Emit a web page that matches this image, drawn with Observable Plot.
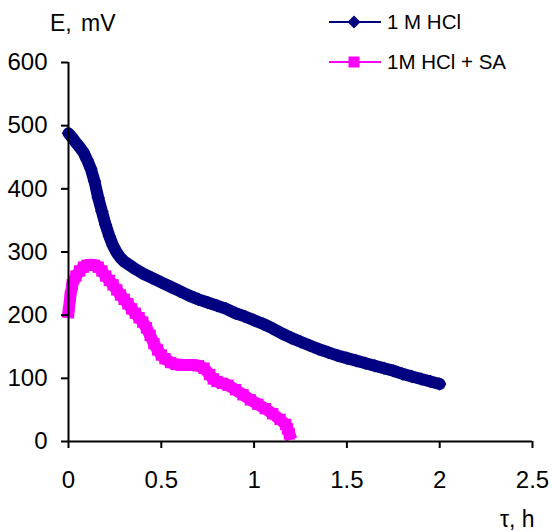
<!DOCTYPE html>
<html>
<head>
<meta charset="utf-8">
<script src="https://cdn.jsdelivr.net/npm/d3@7"></script>
<script src="https://cdn.jsdelivr.net/npm/@observablehq/plot@0.6"></script>
<style>
  html, body { margin: 0; padding: 0; background: #fff; }
  #wrap { position: relative; width: 552px; height: 532px; font-family: "Liberation Sans", Arial, sans-serif; }
  #wrap > svg.overlay { position: absolute; left: 0; top: 0; pointer-events: none; }
</style>
</head>
<body>
<div id="wrap"></div>
<script>
// ---- data ----
const seriesNames = ["1 M HCl", "1M HCl + SA"];

const tHCl = [0.00,0.02,0.04,0.06,0.08,0.10,0.12,0.14,0.16,0.18,0.20,0.22,0.24,0.26,0.28,0.30,
  0.35,0.40,0.45,0.50,0.55,0.60,0.65,0.70,0.75,0.80,0.85,0.90,0.95,1.00,1.05,1.10,1.15,1.20,
  1.25,1.30,1.35,1.40,1.45,1.50,1.55,1.60,1.65,1.70,1.75,1.80,1.85,1.90,1.95,2.00];
const eHCl = [488,481,473,466,458,446,432,412,386,364,343,325,310,299,291,285,
  275,266,259,252,245,238,231,225,220,215,210,203,198,192,186,179,171,164,
  158,152,146,141,136,132,128,124,120,116,112,107,103,99,95,91];

const tSA = [0.00,0.01,0.02,0.04,0.06,0.08,0.10,0.12,0.14,0.16,0.18,0.20,0.22,0.24,0.26,0.28,0.30,
  0.32,0.34,0.36,0.38,0.40,0.42,0.44,0.46,0.48,0.50,0.52,0.55,0.58,0.61,0.64,0.67,0.70,0.73,
  0.76,0.78,0.80,0.83,0.86,0.90,0.94,0.98,1.02,1.06,1.10,1.14,1.17,1.18,1.19];
const eSA = [205,230,248,262,270,276,279,280,279,276,270,262,255,248,240,232,225,
  218,210,203,196,189,180,168,155,145,137,131,125,122,121,121,121,120,116,
  106,99,95,92,89,82,74,66,59,52,44,35,27,20,12];

const xTicks = [0, 0.5, 1, 1.5, 2, 2.5];
const yTicks = [0, 100, 200, 300, 400, 500, 600];
const xTitle = "τ, h";
const yTitle = "E, mV";

// ---- build ----
const colHCl = "#000080", colSA = "#ff00ff";
const hcl = tHCl.map((t, i) => ({t, e: eHCl[i]}));
const sa = tSA.map((t, i) => ({t, e: eSA[i]}));

const diamond = {
  draw(ctx, size) {
    const r = Math.sqrt(size / 2);
    ctx.moveTo(0, -r); ctx.lineTo(r, 0); ctx.lineTo(0, r); ctx.lineTo(-r, 0); ctx.closePath();
  }
};

const chart = Plot.plot({
  width: 552, height: 532,
  marginLeft: 68, marginRight: 20, marginTop: 62, marginBottom: 91,
  style: {fontFamily: "'Liberation Sans', Arial, sans-serif", fontSize: "24px", background: "white", color: "black"},
  x: {domain: [0, 2.5]},
  y: {domain: [0, 600]},
  marks: [
    Plot.line(hcl, {x: "t", y: "e", stroke: colHCl, strokeWidth: 12, strokeLinejoin: "round", strokeLinecap: "round"}),
    Plot.dot(hcl, {x: "t", y: "e", symbol: diamond, r: 5.4, fill: colHCl, stroke: "none"}),
    Plot.line(sa, {x: "t", y: "e", stroke: colSA, strokeWidth: 12, strokeLinejoin: "round", strokeLinecap: "square"}),
    Plot.dot(sa, {x: "t", y: "e", symbol: "square", r: 6.4, fill: colSA, stroke: "none"}),
    Plot.ruleX([0], {stroke: "black", strokeWidth: 2}),
    Plot.ruleY([0], {stroke: "black", strokeWidth: 2}),
    Plot.axisX({ticks: xTicks, tickSize: 7, tickPadding: 22, tickFormat: d => String(d), label: null, strokeWidth: 2, fontSize: 24}),
    Plot.axisY({ticks: yTicks, tickSize: 7, tickPadding: 14, tickFormat: d => String(d), label: null, strokeWidth: 2, fontSize: 24})
  ]
});

const wrap = document.getElementById("wrap");
wrap.appendChild(chart);

// overlay: axis titles and legend
const ov = d3.select(wrap).append("svg").attr("class", "overlay").attr("width", 552).attr("height", 532)
  .attr("font-family", "'Liberation Sans', Arial, sans-serif");
ov.append("text").attr("x", 50).attr("y", 31).style("font-size", "23px").style("word-spacing", "3px").text(yTitle);
ov.append("text").attr("x", 500).attr("y", 527).style("font-size", "23px").text(xTitle);

const legendItems = [
  {name: seriesNames[0], color: colHCl, shape: "diamond"},
  {name: seriesNames[1], color: colSA, shape: "square"}
];
legendItems.forEach((it, i) => {
  const g = ov.append("g").attr("transform", `translate(0,${22 + i * 40})`);
  g.append("line").attr("x1", 329).attr("x2", 381).attr("y1", 0).attr("y2", 0).attr("stroke", it.color).attr("stroke-width", 2);
  if (it.shape === "diamond") {
    g.append("path").attr("d", "M354,-6.5L360.5,0L354,6.5L347.5,0Z").attr("fill", it.color);
  } else {
    g.append("rect").attr("x", 348.5).attr("y", -5.5).attr("width", 11).attr("height", 11).attr("fill", it.color);
  }
  g.append("text").attr("x", 387).attr("y", 7).style("font-size", "20.5px").text(it.name);
});
</script>
</body>
</html>
